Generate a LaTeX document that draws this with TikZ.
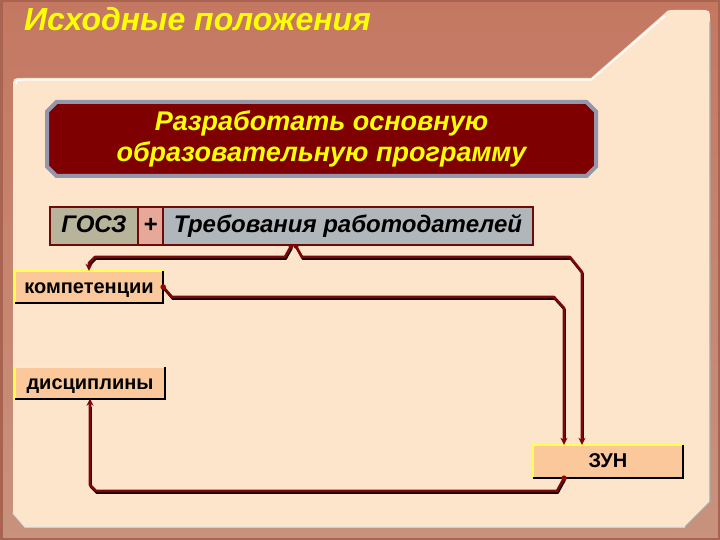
\documentclass[tikz,border=0pt]{standalone}
\usepackage{fontspec}
\setmainfont{Liberation Sans}
\usetikzlibrary{arrows.meta,shapes.misc,calc}
\definecolor{frameA}{HTML}{C47862}
\definecolor{frameB}{HTML}{C8927C}
\definecolor{frameDark}{HTML}{A86450}
\definecolor{cream}{HTML}{FDE5CB}
\definecolor{darkbox}{HTML}{7E0000}
\definecolor{bevel}{HTML}{9496AC}
\definecolor{wire}{HTML}{7A0808}
\definecolor{peach}{HTML}{FAC89B}
\definecolor{gosfill}{HTML}{B8B49C}
\definecolor{plusfill}{HTML}{E6A898}
\definecolor{reqfill}{HTML}{B0B6BA}
\definecolor{cellframe}{HTML}{6E0A0A}
\definecolor{ttlyellow}{HTML}{FFFF00}
\definecolor{hlyellow}{HTML}{FFFF50}
\tikzset{
  cell/.style={draw=cellframe, line width=2.5pt, minimum height=38pt, inner sep=0pt,
    text height=18pt, text depth=4pt,
    font=\fontsize{24}{26}\selectfont\bfseries\itshape, text=black},
  resbox/.style={fill=peach, inner sep=0pt, text height=14pt, text depth=2pt,
    font=\fontsize{20}{22}\selectfont\bfseries, text=black},
  hiline/.style={hlyellow, line width=1.6pt},
  loline/.style={black, line width=1.8pt},
  wireline/.style={wire, line width=2.6pt, line join=round},
  wireshadow/.style={black, line width=2.2pt, line join=round, transform canvas={shift={(0.8pt,-1.8pt)}}},
  tip/.style={-{Stealth[length=7pt,width=7pt]}},
}
\begin{document}
\begin{tikzpicture}[x=1pt,y=-1pt]
\useasboundingbox (0,0) rectangle (720,540);
% frame
\shade[top color=frameA, bottom color=frameB] (0,0) rectangle (720,540);
\draw[frameDark, line width=3pt] (1.5,0) -- (1.5,540);
\draw[frameDark, line width=2pt] (0,1) -- (720,1);
\draw[frameDark, line width=2pt] (0,539) -- (720,539);
\draw[frameDark, line width=2pt] (719,0) -- (719,540);
% panel
\fill[cream] (13,513) -- (13,88) .. controls (13,78) .. (23,78) -- (591,78) -- (664,14)
  .. controls (668,10) .. (674,10) -- (700,10) .. controls (710,10) .. (710,20)
  -- (710,502) -- (685,527) -- (25,527) -- cycle;
\draw[white, line width=1.5pt] (16,84) .. controls (16,80) .. (24,80) -- (591,80) -- (665,16);
\draw[gray!70, line width=1.2pt] (710,22) -- (710,502) -- (685,527);
\draw[white!80!gray, line width=1.2pt] (13,513) -- (25,527) -- (685,527);
% title
\node[anchor=base west, text=ttlyellow, inner sep=0pt,
  font=\fontsize{32}{36}\selectfont\bfseries\itshape] (title) at (24,31) {Исходные положения};
% main goal box
\node[chamfered rectangle, chamfered rectangle xsep=6pt, fill=darkbox, draw=bevel,
  line width=4pt, minimum width=549pt, minimum height=74pt, inner sep=0pt,
  align=center, text=ttlyellow,
  font=\fontsize{27}{31}\selectfont\bfseries\itshape] (goal) at (321.5,139)
  {Разработать основную\\образовательную программу};
% top cells
\node[cell, fill=gosfill, minimum width=88pt] (gos) at (94,226) {ГОСЗ};
\node[cell, fill=plusfill, minimum width=25pt] (plus) at (150.5,226) {+};
\node[cell, fill=reqfill, minimum width=370pt] (req) at (348,226) {Требования работодателей};
% result boxes
\node[resbox, minimum width=148pt, minimum height=32pt] (komp) at (89,287) {компетенции};
\node[resbox, minimum width=150pt, minimum height=31pt] (disc) at (90,383) {дисциплины};
\node[resbox, minimum width=150pt, minimum height=33pt] (zun) at (608,461.5) {ЗУН};
\foreach \n in {komp,disc,zun}{
  \draw[hiline] (\n.south west) -- (\n.north west) -- (\n.north east);
  \draw[loline] (\n.north east) -- (\n.south east) -- (\n.south west);
}
% helper x positions
\coordinate (jl) at (291,0);
\coordinate (jr) at (296,0);
\coordinate (zl) at (564,0);
\coordinate (zr) at (582,0);
% shadows
\draw[wireshadow] (jl |- req.south) -- (285,257) -- (95,257) -- (89,263) -- ($(komp.north)+(0,-6)$);
\draw[wireshadow] (jr |- req.south) -- (302,257) -- (570,257) -- (582,272) -- ($(zr |- zun.north)+(0,-6)$);
\draw[wireshadow] (komp.east) -- (172,297) -- (554,297) -- (564,308) -- ($(zl |- zun.north)+(0,-6)$);
\draw[wireshadow] (zl |- zun.south) -- (557,491) -- (96,491) -- (90,485) -- ($(disc.south)+(0,6)$);
% wires
\draw[wireline, tip] (jl |- req.south) -- (285,257) -- (95,257) -- (89,263) -- (komp.north);
\draw[wireline, tip] (jr |- req.south) -- (302,257) -- (570,257) -- (582,272) -- (zr |- zun.north);
\draw[wireline, tip] (komp.east) -- (172,297) -- (554,297) -- (564,308) -- (zl |- zun.north);
\draw[wireline, tip] (zl |- zun.south) -- (557,491) -- (96,491) -- (90,485) -- (disc.south);
% dots
\fill[wire] (jl |- req.south) circle (2.5pt);
\fill[wire] (jr |- req.south) circle (2.5pt);
\fill[wire!80!red] (komp.east) circle (2.8pt);
\fill[wire!80!red] (zl |- zun.south) circle (2.8pt);
\end{tikzpicture}
\end{document}
